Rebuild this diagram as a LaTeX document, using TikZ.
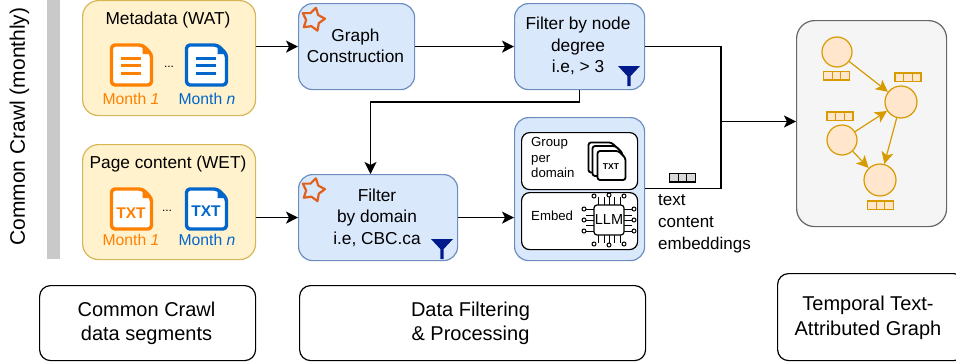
\documentclass[tikz,border=0pt]{standalone}
\usepackage{fontspec}
\setmainfont{Liberation Sans}
\usetikzlibrary{arrows.meta,shapes.geometric,calc}
\definecolor{ybg}{HTML}{FFF2CC}\definecolor{yln}{HTML}{D6B656}
\definecolor{bbg}{HTML}{DAE8FC}\definecolor{bln}{HTML}{6C8EBF}
\definecolor{ogc}{HTML}{FF8000}\definecolor{blc}{HTML}{0066CC}
\definecolor{gbg}{HTML}{F5F5F5}\definecolor{gln}{HTML}{666666}
\definecolor{nbg}{HTML}{FFE6CC}\definecolor{nln}{HTML}{D79B00}
\definecolor{navy}{HTML}{001A8C}\definecolor{starc}{HTML}{E0601C}
\newcommand{\pxbox}[6]{\node[#1,minimum width=#4*1pt-#2*1pt,minimum height=#5*1pt-#3*1pt,anchor=north west] (#6) at (#2,#3) {};}
\newcommand{\docicon}[5]{% x,y(top left),w,h,colour
  \draw[#5,line width=3.4pt,line join=round,fill=white,rounded corners=3.5pt] (#1,#2) -- ++(#3-9,0) -- ++(9,9) -- (#1+#3,#2+#4) -- (#1,#2+#4) -- cycle;
  \fill[#5] (#1+#3-9,#2) -- ++(9,9) -- ++(-9,0) -- cycle;}
\newcommand{\vecicon}[4]{% x,y,colour,fill
  \draw[#3,fill=#4,line width=1.1pt] (#1,#2) rectangle ++(26,8.5);
  \draw[#3,line width=1.1pt] (#1+8.7,#2) -- ++(0,8.5) (#1+17.3,#2) -- ++(0,8.5);}
\newcommand{\staricon}[2]{\node[star,star points=5,star point ratio=1.75,draw=starc,line width=2.2pt,line join=round,fill=none,inner sep=0pt,minimum size=24pt,rotate=-14] at (#1,#2) {};}
\newcommand{\funnel}[2]{\fill[navy] (#1-11,#2) -- (#1+11,#2) -- (#1+1.7,#2+10) -- (#1+1.7,#2+20) -- (#1-1.7,#2+20) -- (#1-1.7,#2+10) -- cycle;}
\tikzset{
 every node/.style={font=\fontsize{17.3}{21.5}\selectfont,align=center,text=black},
 ybox/.style={draw=yln,fill=ybg,line width=1.2pt,rounded corners=16pt,inner sep=0pt},
 bluebox/.style={draw=bln,fill=bbg,line width=1.2pt,rounded corners=14pt,inner sep=0pt},
 wbox/.style={draw=black,fill=white,line width=1.2pt,rounded corners=8pt,inner sep=0pt},
 legendbox/.style={draw=black,fill=white,line width=1.2pt,rounded corners=11pt,inner sep=0pt},
 graybox/.style={draw=gln,fill=gbg,line width=1.2pt,rounded corners=18pt,inner sep=0pt},
 gnode/.style={circle,draw=nln,fill=nbg,line width=1.2pt,inner sep=0pt},
 flow/.style={draw=black,line width=1.2pt,-{Stealth[length=12pt,width=12pt,inset=3pt]}},
 plainflow/.style={draw=black,line width=1.2pt},
 gedge/.style={draw=nln,line width=1.2pt,-{Stealth[length=12pt,width=12pt,inset=3pt]}},
 monthlab/.style={font=\fontsize{15.7}{18}\selectfont,inner sep=0pt},
 txtlab/.style={font=\fontsize{15.5}{17}\bfseries\selectfont,inner sep=0pt},
 smalllab/.style={font=\fontsize{13.2}{15.5}\selectfont,align=left,inner sep=0pt,anchor=west},
 legendtext/.style={font=\fontsize{20}{24.5}\selectfont,inner sep=0pt},
}
\begin{document}
\begin{tikzpicture}[x=1pt,y=-1pt]
\useasboundingbox (0,0) rectangle (956,364);
% left label and bar
\node[rotate=90,font=\fontsize{21}{24}\selectfont,inner sep=0pt] (cc) at (19.5,126.5) {Common Crawl (monthly)};
\fill[black!21] (47,0) rectangle (60,259);
% source boxes
\pxbox{ybox}{82}{0}{255}{115}{meta}
\pxbox{ybox}{82}{144}{255}{259}{page}
\node[inner sep=0pt] (metat) at (168,20) {Metadata (WAT)};
\node[inner sep=0pt] (paget) at (168,164) {Page content (WET)};
\docicon{111.5}{45}{40}{40}{ogc}
\docicon{186.5}{45}{40}{40}{blc}
\foreach \yy in {58,65.5,73}{\fill[ogc] (121,\yy-1.5) rectangle (141,\yy+1.5);\fill[blc] (196,\yy-1.5) rectangle (216,\yy+1.5);}
\node[inner sep=0pt] (dots1) at (169,67) {\fontsize{12}{12}\selectfont ...};
\node[monthlab,text=ogc] (m1) at (131,99) {Month \textit{1}};
\node[monthlab,text=blc] (mn) at (207,99) {Month \textit{n}};
\docicon{111.5}{189}{40}{40}{ogc}
\docicon{186.5}{189}{40}{40}{blc}
\node[txtlab,text=ogc] (t1) at (131,213) {TXT};
\node[txtlab,text=blc] (t2) at (206,211) {TXT};
\node[inner sep=0pt] (dots2) at (167,211) {\fontsize{12}{12}\selectfont ...};
\node[monthlab,text=ogc] (m2) at (131,240) {Month \textit{1}};
\node[monthlab,text=blc] (mm) at (207,240) {Month \textit{n}};
% process boxes
\pxbox{bluebox}{298}{3}{414}{89}{graph}
\node[inner sep=0pt] (grapht) at (355.5,46) {Graph\\Construction};
\staricon{313}{19.5}
\pxbox{bluebox}{514}{3}{644}{89}{fdeg}
\node[inner sep=0pt] (fdegt) at (578,46) {Filter by node\\degree\\i.e, > 3};
\funnel{629}{66}
\pxbox{bluebox}{298}{174}{457}{260}{fdom}
\node[inner sep=0pt] (fdomt) at (377,217.5) {Filter\\by domain\\i.e, CBC.ca};
\staricon{313}{190}
\funnel{442}{239}
\pxbox{bluebox}{514}{117}{644}{260}{proc}
\pxbox{wbox}{521}{132}{637}{189}{grp}
\pxbox{wbox}{521}{192}{637}{249}{emb}
\node[smalllab] (grpt) at (531,157.5) {Group\\per\\domain};
\node[smalllab] (embt) at (531,216) {Embed};
% stacked pages
\foreach \dx/\dy in {0/0,4/3.5}{\draw[black,line width=1.8pt,fill=white,rounded corners=2.5pt] (588.5+\dx,142.5+\dy) -- ++(23,0) -- ++(7,7) -- ++(0,23) -- ++(-30,0) -- cycle;}
\draw[black,line width=1.8pt,fill=white,rounded corners=2.5pt] (597.5,151) -- ++(21,0) -- ++(7,7) -- ++(0,22) -- ++(-28,0) -- cycle;
\node[font=\fontsize{8.5}{9}\bfseries\selectfont,inner sep=0pt] (txts) at (611,167) {TXT};
% chip
\foreach \o in {-11,-5,0,5,11}{
 \draw[black,line width=1pt] (609+\o,205) -- (609+\o,197) (609+\o,235) -- (609+\o,243) (594,220+\o) -- (586,220+\o) (624,220+\o) -- (632,220+\o);}
\foreach \px/\py in {594/196,609/195,624/196,594/244,609/245,624/244,584/209,584/220,584/231,634/209,634/220,634/231}{\draw[black,line width=1pt,fill=white] (\px,\py) circle (2pt);}
\node[draw=black,fill=white,line width=1.2pt,rounded corners=3pt,minimum size=30pt,inner sep=0pt,font=\fontsize{14.5}{15}\selectfont] (llm) at (609,220) {LLM};
% result box
\pxbox{graybox}{796}{20}{946}{226}{tg}
\node[gnode,minimum size=30pt] (n1) at (837,52) {};
\node[gnode,minimum size=32pt] (n2) at (901,102) {};
\node[gnode,minimum size=30pt] (n3) at (842,140) {};
\node[gnode,minimum size=32pt] (n4) at (880,180) {};
\draw[gedge] (n1) -- (n2);
\draw[gedge] (n3) -- (n2);
\draw[gedge] (n3) -- (n4);
\draw[gedge] (n2) -- (n4);
\vecicon{823.5}{71.5}{nln}{nbg}
\vecicon{895}{73}{nln}{nbg}
\vecicon{827}{112}{nln}{nbg}
\vecicon{867.5}{201}{nln}{nbg}
\vecicon{669.5}{173.5}{black}{black!15}
% labels
\node[smalllab,font=\fontsize{17}{22}\selectfont] (emb2) at (658,224) {text\\content\\embeddings};
% connectors
\coordinate (junc) at (721,121.5);
\coordinate (drop) at (370.5,102);
\draw[flow] (meta.east |- graph.west) -- (graph.west);
\draw[flow] (graph.east) -- (graph.east -| fdeg.west);
\draw[flow] (page.east |- fdom.west) -- (fdom.west);
\draw[flow] (fdom.east) -- (fdom.east -| proc.west);
\draw[flow] (fdeg.south) |- (drop) -- (drop |- fdom.north);
\draw[plainflow] (fdeg.east |- graph.east) -| (junc);
\draw[plainflow] (proc.east |- 0,188.5) -| (junc);
\draw[flow] (junc) -- (junc -| tg.west);
% legend
\pxbox{legendbox}{39}{285}{255}{360}{l1}
\pxbox{legendbox}{299}{285}{645}{360}{l2}
\pxbox{legendbox}{777}{273}{964}{360}{l3}
\node[legendtext] (l1t) at (146.5,323.5) {Common Crawl\\data segments};
\node[legendtext] (l2t) at (470.5,323.5) {Data Filtering\\\& Processing};
\node[legendtext] (l3t) at (868,318) {Temporal Text-\\Attributed Graph};
\end{tikzpicture}
\end{document}
